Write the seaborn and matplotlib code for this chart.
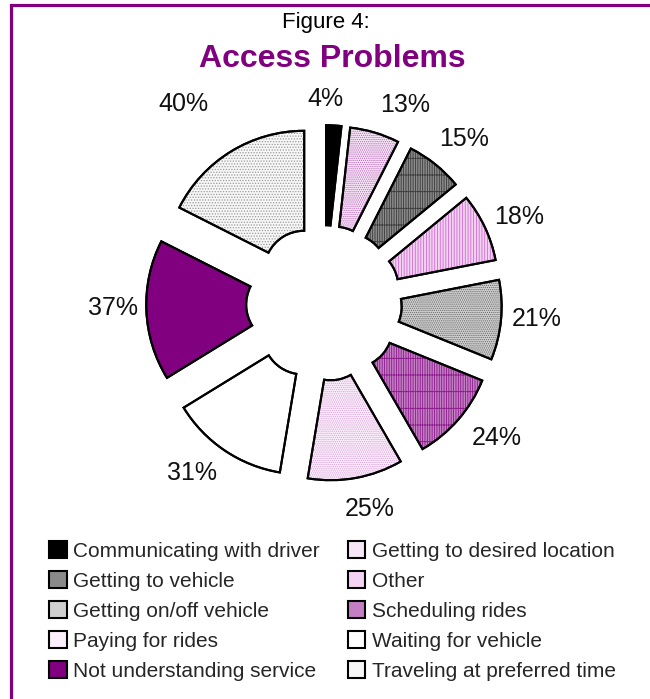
import math
import matplotlib
matplotlib.use("Agg")
import matplotlib.pyplot as plt
from matplotlib.patches import Wedge, Rectangle, Patch
import seaborn as sns

# ---- data ----
categories = ["Communicating with driver", "Getting to desired location",
              "Getting to vehicle", "Other", "Getting on/off vehicle",
              "Scheduling rides", "Paying for rides", "Waiting for vehicle",
              "Not understanding service", "Traveling at preferred time"]
values = [4, 13, 15, 18, 21, 24, 25, 31, 37, 40]
pct_labels = [f"{v}%" for v in values]

# ---- styles ----
face_colors = ["#000000", "#f6e6f6", "#8a8a8a", "#f4d2f4", "#cfcfcf",
               "#c47ec4", "#fbeffb", "#ffffff", "#800080", "#f7f7f7"]
hatches = [None, "........", "|||||||-", "||||||", "........",
           "|||||||-", "........", None, None, "......"]
hatch_colors = [None, "#b868b8", "#3a3a3a", "#cc6acc", "#6a6a6a",
                "#8a1a8a", "#d8a0d8", None, None, "#9a9a9a"]
# label placement tweaks (distance in radii, angular nudge in degrees)
label_dist = [1.20, 1.27, 1.28, 1.26, 1.25, 1.29, 1.225, 1.26, 1.24, 1.48]
label_nudge = [3.5, -6.6, -2.0, -1.3, 1.8, 3.9, 2.8, -4.9, -1.6, 4.2]

sns.set_theme(style="white")
plt.rcParams["font.family"] = ["Liberation Sans", "DejaVu Sans"]
plt.rcParams["hatch.linewidth"] = 0.6

W, H, DPI = 650, 699, 100
fig = plt.figure(figsize=(W / DPI, H / DPI), dpi=DPI)
fig.patch.set_facecolor("white")
ax = fig.add_axes([0, 0, 1, 1])

cx_px, cy_px, R_px = 324, 303, 140
wedges, texts = ax.pie(values, labels=pct_labels, startangle=90, counterclock=False,
                       explode=[0.27] * len(values), radius=1.0,
                       colors=face_colors, labeldistance=1.26,
                       wedgeprops=dict(width=0.714, edgecolor="black", linewidth=1.5),
                       textprops=dict(fontsize=18, color="#111111",
                                      family=["Liberation Sans Narrow", "Liberation Sans"]))
for w, t, d, dn in zip(wedges, texts, label_dist, label_nudge):
    thm = math.radians(0.5 * (w.theta1 + w.theta2) + dn)
    cx, cy = w.center
    t.set_position((cx + d * math.cos(thm), cy + d * math.sin(thm) - 0.01))
    t.set_ha("center")
    t.set_va("center")

# hatch overlays + edge overlays
for w, h, hc in zip(wedges, hatches, hatch_colors):
    if h:
        hp = Wedge(w.center, w.r, w.theta1, w.theta2, width=w.width,
                   fill=False, hatch=h, edgecolor=hc, linewidth=0, zorder=w.get_zorder() + 0.1)
        ax.add_patch(hp)
    ep = Wedge(w.center, w.r, w.theta1, w.theta2, width=w.width,
               fill=False, edgecolor="black", linewidth=1.5, zorder=w.get_zorder() + 0.2)
    ax.add_patch(ep)

ax.set_xlim(-cx_px / R_px, (W - cx_px) / R_px)
ax.set_ylim(-(H - cy_px) / R_px, cy_px / R_px)
ax.set_aspect("auto")
ax.axis("off")

# titles
fig.text(326 / W, 1 - 28 / H, "Figure 4:", ha="center", va="baseline",
         fontsize=16, color="black")
fig.text(332 / W, 1 - 67 / H, "Access Problems", ha="center", va="baseline",
         fontsize=23, fontweight="bold", color="#800080")

# legend (row-major order)
handles = [Patch(facecolor=fc, edgecolor="black", linewidth=1.5) for fc in face_colors]
order = [0, 2, 4, 6, 8, 1, 3, 5, 7, 9]
leg = fig.legend([handles[i] for i in order], [categories[i] for i in order],
                 ncol=2, loc="upper left", bbox_to_anchor=(49 / W, 1 - 541.5 / H),
                 frameon=False, fontsize=15, handlelength=0.85, handleheight=0.85,
                 handletextpad=0.3, columnspacing=1.35, labelspacing=0.5,
                 borderpad=0, borderaxespad=0)

# purple frame
fig.patches.append(Rectangle((11 / W, -0.1), 2, 1.1 - 5.5 / H, transform=fig.transFigure,
                             fill=False, edgecolor="#800080", linewidth=2.3))

fig.savefig("out.png", dpi=DPI, facecolor="white")
